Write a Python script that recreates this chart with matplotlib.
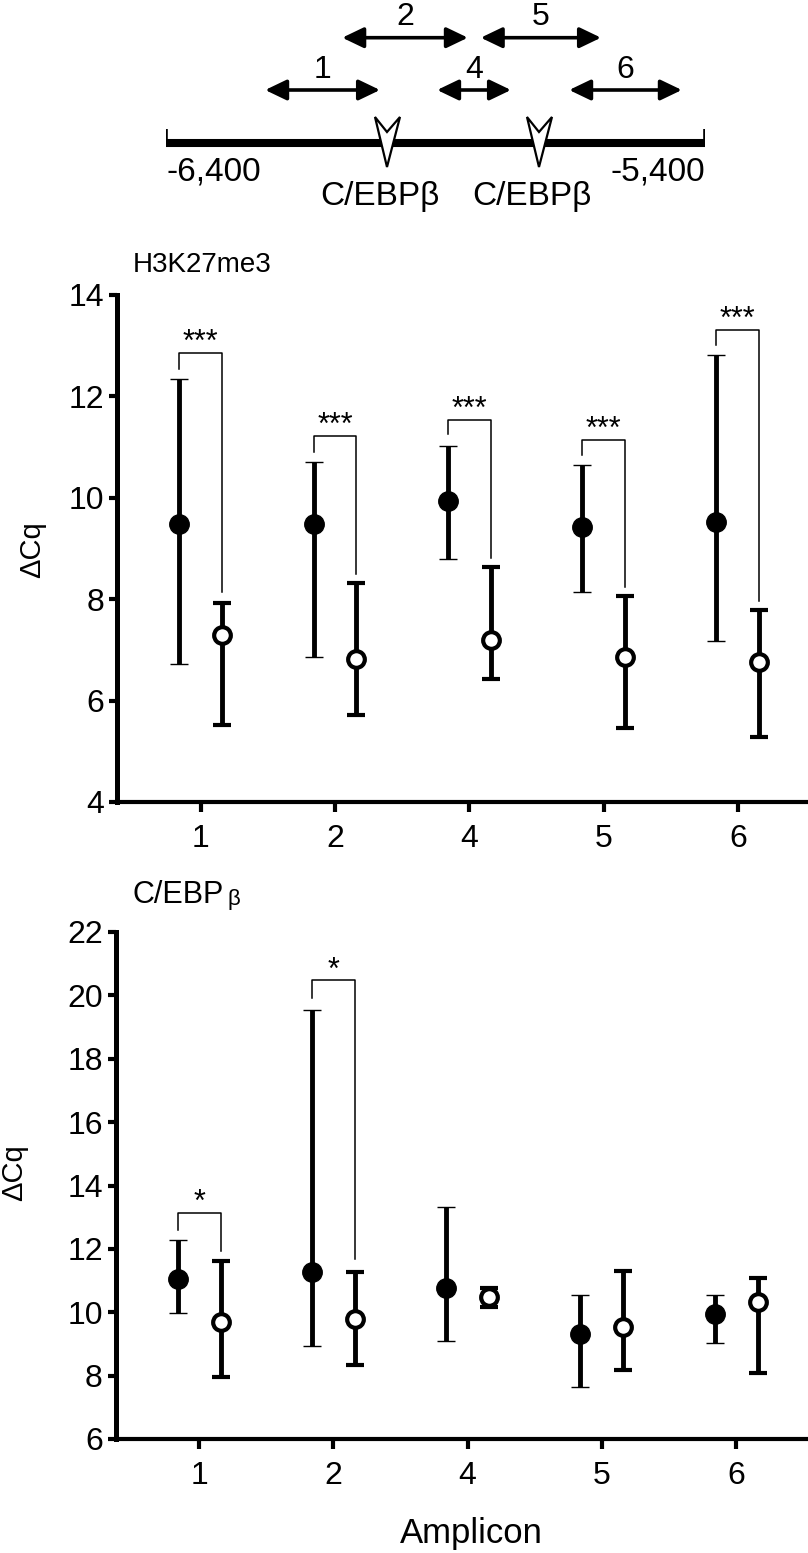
import matplotlib
matplotlib.use('Agg')
import matplotlib.pyplot as plt
from matplotlib.patches import Polygon
import numpy as np

plt.rcParams['font.family'] = ['Liberation Sans', 'DejaVu Sans']

# ---------------- data ----------------
amplicons = ['1', '2', '4', '5', '6']

# H3K27me3 panel (filled = group A, open = group B)
h3_filled = [9.49, 9.48, 9.94, 9.42, 9.52]
h3_filled_lo = [6.72, 6.86, 8.79, 8.14, 7.17]
h3_filled_hi = [12.34, 10.70, 11.03, 10.65, 12.82]
h3_open = [7.30, 6.82, 7.19, 6.86, 6.76]
h3_open_lo = [5.51, 5.72, 6.42, 5.46, 5.28]
h3_open_hi = [7.92, 8.32, 8.63, 8.06, 7.78]
h3_sig_idx = [0, 1, 2, 3, 4]
h3_sig = ['***', '***', '***', '***', '***']
h3_br_top = [12.86, 11.22, 11.54, 11.14, 13.31]
h3_br_left = [12.54, 10.91, 11.25, 10.84, 13.02]
h3_br_right = [8.14, 8.49, 8.82, 8.25, 7.96]

# C/EBPbeta panel
cb_filled = [11.05, 11.27, 10.75, 9.32, 9.94]
cb_filled_lo = [9.97, 8.94, 9.08, 7.63, 9.03]
cb_filled_hi = [12.29, 19.55, 13.33, 10.54, 10.54]
cb_open = [9.68, 9.78, 10.48, 9.55, 10.32]
cb_open_lo = [7.96, 8.33, 10.15, 8.18, 8.08]
cb_open_hi = [11.61, 11.27, 10.78, 11.30, 11.07]
cb_sig_idx = [0, 1]
cb_sig = ['*', '*']
cb_br_top = [13.14, 20.47]
cb_br_left = [12.58, 19.92]
cb_br_right = [11.94, 11.68]

# map of the region (bp)
map_start, map_end = -6400, -5400
map_labels = ['-6,400', '-5,400']
amp_names = ['1', '2', '4', '5', '6']
amp_start = [-6216, -6073, -5897, -5816, -5652]
amp_end = [-6003, -5840, -5760, -5593, -5443]
amp_row = [1, 0, 1, 0, 1]
site_pos = [-5990, -5708]
site_label = 'C/EBPβ'

# ---------------- figure ----------------
W, H = 808, 1553
fig = plt.figure(figsize=(W / 100, H / 100), dpi=100)


def fx(px):
    return px / W


def fy(py):
    return 1 - py / H


# ----- map schematic -----
ax0 = fig.add_axes([fx(166), fy(215), (705 - 166) / W, 215 / H])
ax0.set_xlim(map_start, map_end)
ax0.set_ylim(215, 0)
ax0.axis('off')
line_y = 142.5
ax0.plot([map_start, map_end], [line_y, line_y], color='black', lw=5.8,
         solid_capstyle='butt', zorder=2)
for xe in (map_start, map_end):
    ax0.plot([xe, xe], [129, line_y + 4], color='black', lw=2.6,
             solid_capstyle='butt', zorder=2)
ax0.text(map_start, 172, map_labels[0], ha='left', va='center', fontsize=24)
ax0.text(map_end, 172, map_labels[1], ha='right', va='center', fontsize=24)

row_y = [37.7, 90]
lab_y = [17, 70]
for nm, s, e, r in zip(amp_names, amp_start, amp_end, amp_row):
    ax0.annotate('', xy=(e, row_y[r]), xytext=(s, row_y[r]),
                 arrowprops=dict(arrowstyle='<|-|>,head_length=1.0,head_width=0.48',
                                 mutation_scale=13, lw=2.6, color='black',
                                 shrinkA=0, shrinkB=0))
    ax0.text((s + e) / 2, lab_y[r], nm, ha='center', va='center', fontsize=23)

bp_per_px = (map_end - map_start) / (705 - 166)
for s in site_pos:
    pts = [(s - 12 * bp_per_px, 117), (s, 132), (s + 13 * bp_per_px, 117), (s, 167)]
    ax0.add_patch(Polygon(pts, closed=True, facecolor='white', edgecolor='black',
                          lw=1.6, zorder=3, joinstyle='miter'))
    ax0.text(s - 7 * bp_per_px, 197, site_label, ha='center', va='center', fontsize=24)


# ----- data panels -----
def panel(ax, filled, flo, fhi, opn, olo, ohi, ylim, yticks,
          sig_idx, sig, br_top, br_left, br_right, xmax):
    x = np.arange(len(amplicons))
    off = 0.16
    filled = np.array(filled); opn = np.array(opn)
    ax.errorbar(x - off, filled,
                yerr=[filled - np.array(flo), np.array(fhi) - filled],
                fmt='o', color='black', mfc='black', mec='black', ms=14, mew=1.0,
                elinewidth=3.5, capsize=6.5, capthick=3.2, zorder=3)
    ax.errorbar(x + off, opn,
                yerr=[opn - np.array(olo), np.array(ohi) - opn],
                fmt='o', color='black', mfc='white', mec='black', ms=12, mew=3.0,
                elinewidth=3.5, capsize=6.5, capthick=3.2, zorder=3)
    for i, s, t, l, r in zip(sig_idx, sig, br_top, br_left, br_right):
        ax.plot([i - off, i - off, i + off, i + off], [l, t, t, r],
                color='black', lw=1.1, zorder=2)
        ax.text(i, t + 0.04 * (ylim[1] - ylim[0]) / 10, s, ha='center',
                va='baseline', fontsize=22)
    ax.set_xlim(-0.62, xmax)
    ax.set_ylim(*ylim)
    ax.set_yticks(yticks)
    ax.set_xticks(x)
    ax.set_xticklabels(amplicons)
    for sp in ('top', 'right'):
        ax.spines[sp].set_visible(False)
    ax.spines['left'].set_linewidth(3.6)
    ax.spines['bottom'].set_linewidth(3.0)
    ax.tick_params(axis='y', length=5.5, width=3.0, labelsize=23, pad=4)
    ax.tick_params(axis='x', length=7, width=3.0, labelsize=23, pad=9)
    ax.patch.set_visible(False)


ax1 = fig.add_axes([fx(117.5), fy(802), (W - 117.5) / W, (802 - 295) / H])
panel(ax1, h3_filled, h3_filled_lo, h3_filled_hi, h3_open, h3_open_lo, h3_open_hi,
      (4, 14), [4, 6, 8, 10, 12, 14], h3_sig_idx, h3_sig, h3_br_top, h3_br_left,
      h3_br_right, (W - 201) / 134.2)

ax2 = fig.add_axes([fx(116), fy(1439), (W - 116) / W, (1439 - 932) / H])
panel(ax2, cb_filled, cb_filled_lo, cb_filled_hi, cb_open, cb_open_lo, cb_open_hi,
      (6, 22), [6, 8, 10, 12, 14, 16, 18, 20, 22], cb_sig_idx, cb_sig, cb_br_top,
      cb_br_left, cb_br_right, (W - 199.3) / 134.2)

fig.text(fx(133), fy(264.5), 'H3K27me3', ha='left', va='center', fontsize=20)
fig.text(fx(132), fy(895), 'C/EBP', ha='left', va='center', fontsize=22)
fig.text(fx(228), fy(899), 'β', ha='left', va='center', fontsize=16)
fig.text(fx(32), fy(550), 'ΔCq', rotation=90, ha='center', va='center', fontsize=21)
fig.text(fx(14), fy(1173), 'ΔCq', rotation=90, ha='center', va='center', fontsize=21)
fig.text(fx(471), fy(1533), 'Amplicon', ha='center', va='center', fontsize=25)

fig.savefig('out.png', dpi=100)
